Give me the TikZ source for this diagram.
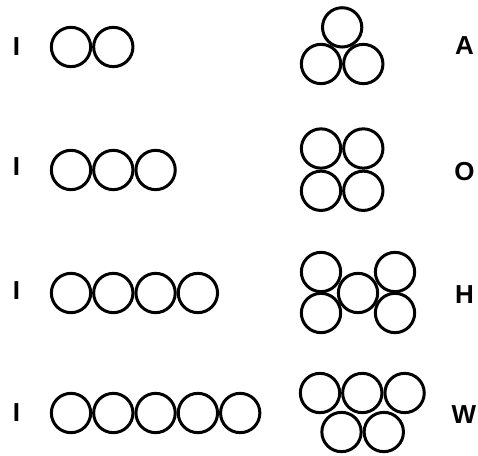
\documentclass[tikz,border=0pt]{standalone}
\usepackage{fontspec}
\setmainfont{Liberation Sans}
\usetikzlibrary{positioning}

\begin{document}
\begin{tikzpicture}[
    x=1pt,y=1pt,
    node distance=0pt,
    ball/.style={circle,draw=black,line width=3pt,minimum size=39.3pt,inner sep=0pt},
    tag/.style={font=\fontsize{26}{30}\selectfont\bfseries,inner sep=0pt}
  ]
    \useasboundingbox (0,0) rectangle (478,455);
    % left: chains
    \node[tag] (i1) at (16.5,408) {I};
    \node[ball] (r1a) at (71,408) {};
    \node[ball,right=of r1a] (r1b) {};
    \node[tag] (i2) at (16.5,288) {I};
    \node[ball] (r2a) at (71,285) {};
    \node[ball,right=of r2a] (r2b) {};
    \node[ball,right=of r2b] (r2c) {};
    \node[tag] (i3) at (16.5,164) {I};
    \node[ball] (r3a) at (71,162) {};
    \node[ball,right=of r3a] (r3b) {};
    \node[ball,right=of r3b] (r3c) {};
    \node[ball,right=of r3c] (r3d) {};
    \node[tag] (i4) at (16.5,42) {I};
    \node[ball] (r4a) at (71,42) {};
    \node[ball,right=of r4a] (r4b) {};
    \node[ball,right=of r4b] (r4c) {};
    \node[ball,right=of r4c] (r4d) {};
    \node[ball,right=of r4d] (r4e) {};
    % right: clusters
    \node[ball] (a2) at (321,391) {};
    \node[ball,right=of a2] (a3) {};
    \node[ball] (a1) at ([shift={(60:42.3)}]a2) {};
    \node[tag] (la) at (464.5,409) {A};
    \node[ball] (o1) at (321,306.5) {};
    \node[ball,right=of o1] (o2) {};
    \node[ball,below=of o1] (o3) {};
    \node[ball,right=of o3] (o4) {};
    \node[tag] (lo) at (464.5,283) {O};
    \node[ball] (h1) at (321,183) {};
    \node[ball] (h2) at (321,142) {};
    \node[ball] (h3) at (358,162) {};
    \node[ball] (h4) at (395,183) {};
    \node[ball] (h5) at (395,142) {};
    \node[tag] (lh) at (464.5,160.5) {H};
    \node[ball] (w1) at (320,62) {};
    \node[ball,right=of w1] (w2) {};
    \node[ball,right=of w2] (w3) {};
    \node[ball] (w4) at (341.5,23) {};
    \node[ball,right=of w4] (w5) {};
    \node[tag] (lw) at (464,40) {W};
\end{tikzpicture}
\end{document}
